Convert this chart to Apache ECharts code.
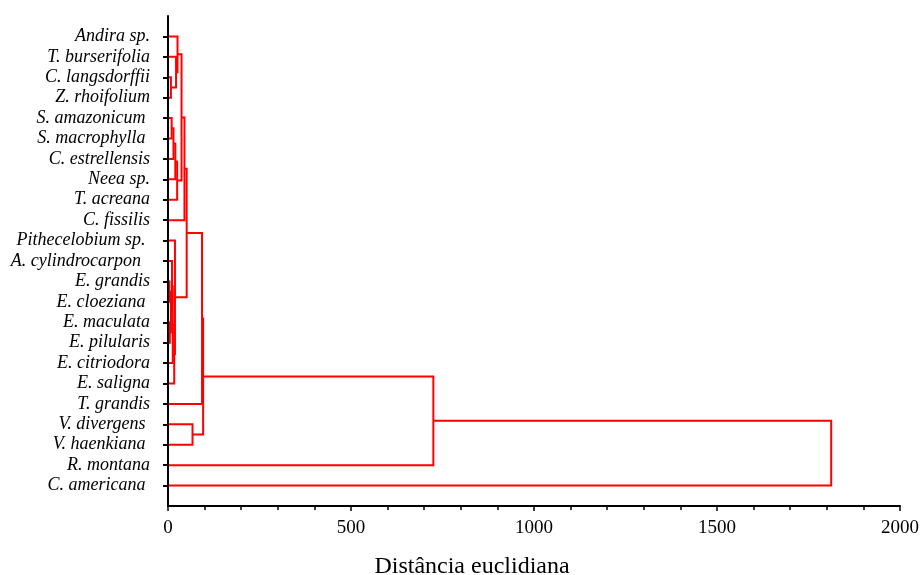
<!DOCTYPE html>
<html>
<head>
<meta charset="utf-8">
<script src="https://cdn.jsdelivr.net/npm/echarts@6/dist/echarts.min.js"></script>
<style>
  html, body { margin: 0; padding: 0; background: #fff; }
  #chart { width: 920px; height: 575px; }
</style>
</head>
<body>
<div id="chart"></div>
<script>
// Leaves of the dendrogram, top to bottom
const species = [
  'Andira sp.', 'T. burserifolia', 'C. langsdorffii', 'Z. rhoifolium',
  'S. amazonicum ', 'S. macrophylla ', 'C. estrellensis', 'Neea sp.',
  'T. acreana', 'C. fissilis', 'Pithecelobium sp. ', 'A. cylindrocarpon  ',
  'E. grandis', 'E. cloeziana ', 'E. maculata', 'E. pilularis',
  'E. citriodora', 'E. saligna', 'T. grandis', 'V. divergens ',
  'V. haenkiana ', 'R. montana', 'C. americana '
];

// Agglomeration steps: node ids 0..22 are leaves, step k creates node 23 + k
const linkLeft   = [2, 1, 0, 4, 26, 27, 28, 25, 30, 12, 14, 32, 11, 35, 36, 10, 31, 39, 19, 40, 42, 43];
const linkRight  = [3, 23, 24, 5, 6, 7, 8, 29, 9, 13, 15, 33, 34, 16, 17, 37, 38, 18, 20, 41, 21, 22];
const linkHeight = [8, 22, 26, 10, 15, 20, 25, 37, 45, 4, 5, 8, 11, 13, 17, 19, 51, 93, 67, 96, 725, 1812];

// x-axis ticks
const distTicks = [0, 500, 1000, 1500, 2000];

// Node positions: leaves sit at 1..n on the y axis, merged nodes at the midpoint of their children
const nodeY = species.map((_, i) => i + 1);
const nodeH = species.map(() => 0);
const links = [];
linkHeight.forEach((h, k) => {
  const a = linkLeft[k], b = linkRight[k];
  links.push([nodeH[a], nodeY[a], h, nodeY[b], nodeH[b]]);
  nodeY.push((nodeY[a] + nodeY[b]) / 2);
  nodeH.push(h);
});

const chart = echarts.init(document.getElementById('chart'), null, { renderer: 'canvas' });
const serif = '"Liberation Serif", "Times New Roman", serif';

chart.setOption({
  animation: false,
  backgroundColor: '#ffffff',
  grid: { left: 168, right: 20, top: 16, bottom: 69, containLabel: false, outerBoundsMode: 'none' },
  xAxis: {
    type: 'value',
    min: distTicks[0],
    max: distTicks[distTicks.length - 1],
    interval: 500,
    z: 5,
    name: 'Distância euclidiana',
    nameLocation: 'middle',
    nameGap: 49,
    nameTextStyle: { fontFamily: serif, fontSize: 24, color: '#000', padding: [0, 124, 0, 0] },
    axisLine: { show: true, onZero: false, lineStyle: { color: '#000', width: 2 } },
    axisTick: { show: true, length: 5, lineStyle: { color: '#000', width: 1.5 } },
    minorTick: { show: true, splitNumber: 5, length: 4, lineStyle: { color: '#000', width: 1.5 } },
    axisLabel: { fontFamily: serif, fontSize: 19, color: '#000', margin: 13, formatter: v => String(v) },
    splitLine: { show: false },
    minorSplitLine: { show: false }
  },
  yAxis: {
    type: 'value',
    min: 0,
    max: species.length + 1,
    inverse: true,
    z: 5,
    axisLine: { show: true, onZero: false, lineStyle: { color: '#000', width: 2 } },
    axisTick: {
      show: true, length: 5,
      customValues: species.map((_, i) => i + 1),
      lineStyle: { color: '#000', width: 2 }
    },
    axisLabel: {
      customValues: species.map((_, i) => i + 1),
      formatter: v => species[v - 1] || '',
      fontFamily: serif, fontSize: 18, fontStyle: 'italic', color: '#000', margin: 18,
      padding: [6, 0, 0, 0]
    },
    splitLine: { show: false }
  },
  series: [{
    type: 'custom',
    encode: { x: [0, 2, 4], y: [1, 3] },
    data: links,
    clip: false,
    renderItem: (params, api) => {
      const p1 = api.coord([api.value(0), api.value(1)]);
      const p2 = api.coord([api.value(2), api.value(1)]);
      const p3 = api.coord([api.value(2), api.value(3)]);
      const p4 = api.coord([api.value(4), api.value(3)]);
      return {
        type: 'polyline',
        shape: { points: [p1, p2, p3, p4] },
        style: { stroke: '#ff0000', lineWidth: 2, fill: null }
      };
    }
  }]
});
</script>
</body>
</html>
